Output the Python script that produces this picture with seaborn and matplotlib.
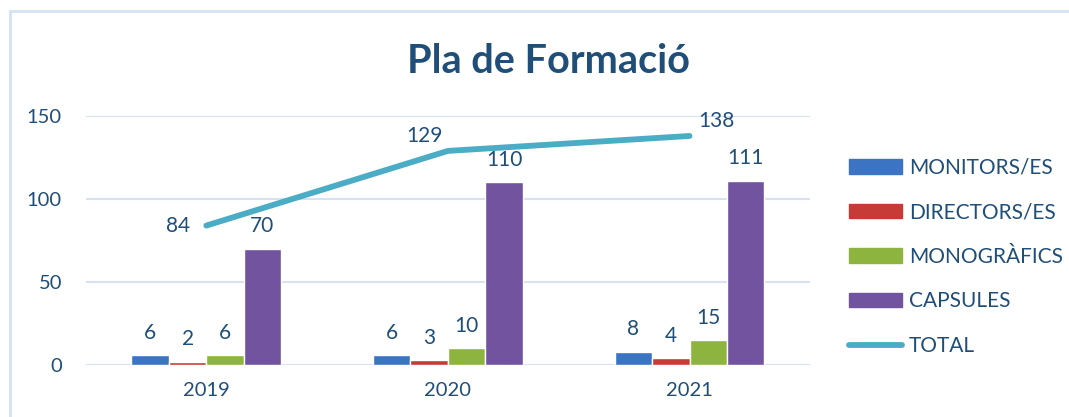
import matplotlib
matplotlib.use("Agg")
import matplotlib.pyplot as plt
from matplotlib.patches import Patch
from matplotlib.lines import Line2D
import numpy as np
import pandas as pd
import seaborn as sns

# data
years = ["2019", "2020", "2021"]
monitors = [6, 6, 8]
directors = [2, 3, 4]
monografics = [6, 10, 15]
capsules = [70, 110, 111]
total = [84, 129, 138]
series_names = ["MONITORS/ES", "DIRECTORS/ES", "MONOGRÀFICS", "CAPSULES"]

# style
sns.set_style("white")
plt.rcParams['font.family'] = ['Lato', 'DejaVu Sans']
txt = '#1F4E79'
grid_col = '#D6E2F2'
colors = ['#3A74C2', '#C73B36', '#8CB43F', '#7253A0']
line_col = '#4BACC6'

rows = []
for name, vals in zip(series_names, [monitors, directors, monografics, capsules]):
    for y, v in zip(years, vals):
        rows.append({'year': y, 'serie': name, 'value': v})
df = pd.DataFrame(rows)

fig = plt.figure(figsize=(10.69, 4.17), dpi=100)
ax = fig.add_axes([0.080, 0.1247, 0.678, 0.597])

sns.barplot(data=df, x='year', y='value', hue='serie', order=years,
            hue_order=series_names, palette=colors, width=0.62, gap=0,
            saturation=1, ax=ax, legend=False, errorbar=None, zorder=3)
sns.lineplot(x=years, y=total, color=line_col, linewidth=4.2, ax=ax,
             solid_capstyle='round', zorder=4)

# bar labels
for cont in ax.containers:
    for bar in cont:
        h = bar.get_height()
        ax.annotate(f"{h:.0f}", (bar.get_x() + bar.get_width() / 2, h),
                    xytext=(0, 9), textcoords='offset points',
                    ha='center', va='bottom', fontsize=15, color=txt)

# total labels
offsets = [(-20, 0), (-17, 11), (19, 11)]
for i, (t, off) in enumerate(zip(total, offsets)):
    ax.annotate(str(t), (i, t), xytext=off, textcoords='offset points',
                ha='center', va='center', fontsize=15, color=txt,
                annotation_clip=False)

ax.set_ylim(0, 150)
ax.set_xlim(-0.5, 2.5)
ax.set_yticks([0, 50, 100, 150])
ax.yaxis.grid(True, color=grid_col, linewidth=1.5, zorder=0)
ax.set_axisbelow(True)
for s in ax.spines.values():
    s.set_visible(False)
ax.tick_params(axis='y', length=0, pad=17, labelsize=14.5, labelcolor=txt)
ax.tick_params(axis='x', length=0, pad=12, labelsize=14.5, labelcolor=txt)
ax.set_xlabel('')
ax.set_ylabel('')

fig.text(0.513, 0.853, "Pla de Formació", ha='center', va='center',
         fontsize=28.5, fontweight='bold', color=txt)

handles = [Patch(color=c, label=n) for c, n in zip(colors, series_names)]
handles.append(Line2D([0], [0], color=line_col, linewidth=4.2,
                      solid_capstyle='round', label='TOTAL'))
fig.legend(handles=handles, loc='center left', bbox_to_anchor=(0.777, 0.384),
           frameon=False, fontsize=15, handlelength=2.55, handletextpad=0.3,
           labelspacing=1.18, labelcolor=txt)

# chart frame
fig.add_artist(Line2D([10 / 1069, 1], [1 - 11 / 417, 1 - 11 / 417],
                      color=grid_col, linewidth=2, transform=fig.transFigure))
fig.add_artist(Line2D([10 / 1069, 10 / 1069], [0, 1 - 11 / 417],
                      color=grid_col, linewidth=2, transform=fig.transFigure))

fig.savefig('out.png', dpi=100)
plt.close()
